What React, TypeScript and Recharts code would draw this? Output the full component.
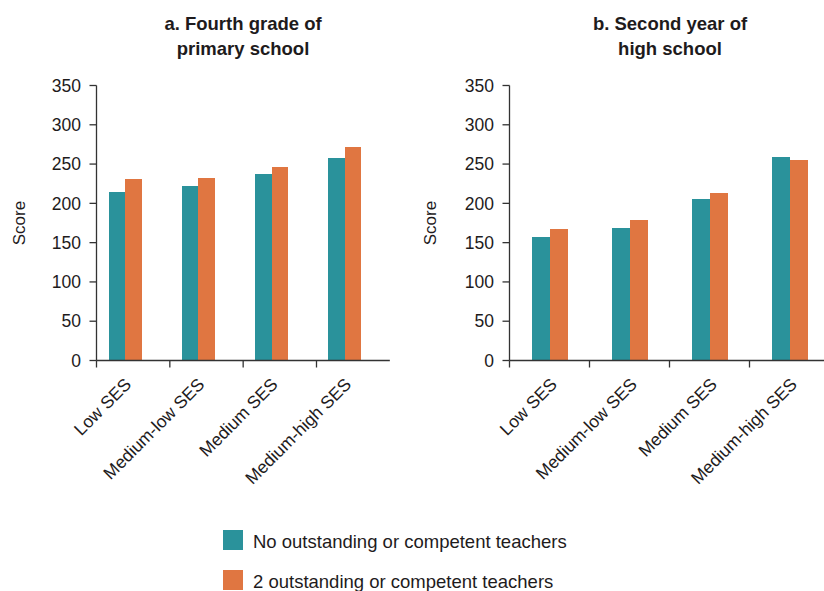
import React from 'react';
import { BarChart, Bar, XAxis, YAxis } from 'recharts';

// ---- data ----
const categories = ['Low SES', 'Medium-low SES', 'Medium SES', 'Medium-high SES'];
const primaryNone = [215, 222, 237, 258];
const primaryTwo = [231, 232, 246, 272];
const highNone = [157, 169, 205, 259];
const highTwo = [167, 179, 213, 255];
const yTicks = [0, 50, 100, 150, 200, 250, 300, 350];
const seriesNames = ['No outstanding or competent teachers', '2 outstanding or competent teachers'];
const titleA = ['a. Fourth grade of', 'primary school'];
const titleB = ['b. Second year of', 'high school'];
const yAxisTitle = 'Score';

const dataA = categories.map((c, i) => ({ category: c, none: primaryNone[i], two: primaryTwo[i] }));
const dataB = categories.map((c, i) => ({ category: c, none: highNone[i], two: highTwo[i] }));

// ---- style ----
const FONT = '"Liberation Sans", Arial, Helvetica, sans-serif';
const TEAL = '#2A929B';
const ORANGE = '#E07641';
const AXIS = '#333333';
const TEXT = '#1e1b1c';
const AXIS_Y = 360.5;
const PLOT_TOP = 85.5;
const CH = 520;
const XH = 100;
const YW = 60;

const CategoryTick = (props: any) => {
  const { x, payload, half, dx, dy, axisY } = props;
  const tx = x + dx;
  const ty = axisY + dy;
  return (
    <g>
      <line x1={x - half} y1={axisY} x2={x - half} y2={axisY + 7} stroke={AXIS} strokeWidth={1.3} />
      <text
        x={tx}
        y={ty}
        textAnchor="end"
        transform={`rotate(-45 ${tx} ${ty})`}
        fontSize={17.5}
        fill={TEXT}
        fontFamily={FONT}
      >
        {payload.value}
      </text>
    </g>
  );
};

const ScoreLabel = (props: any) => {
  const { viewBox, bx } = props;
  const cy = viewBox ? viewBox.y + viewBox.height / 2 : 223;
  return (
    <text
      x={bx}
      y={cy}
      textAnchor="middle"
      transform={`rotate(-90 ${bx} ${cy})`}
      fontSize={17}
      fill={TEXT}
      fontFamily={FONT}
    >
      {yAxisTitle}
    </text>
  );
};

const yTickStyle = { fontSize: 17.5, fill: TEXT, fontFamily: FONT };
const axisStyle = { stroke: AXIS, strokeWidth: 1.3 };

export default function App() {
  const plotWA = 293.33;
  const leftA = 36.5;
  const plotWB = 320;
  const leftB = 37.5;
  const widthB = 420;
  return (
    <div
      style={{
        position: 'absolute',
        left: 0,
        top: 0,
        width: 824,
        height: 591,
        overflow: 'hidden',
        background: '#fff',
        fontFamily: FONT,
      }}
    >
      <div style={{ position: 'absolute', left: 0, top: 0 }}>
        <BarChart
          width={412}
          height={CH}
          data={dataA}
          barGap={0}
          margin={{ top: PLOT_TOP, right: 412 - leftA - YW - plotWA, bottom: CH - AXIS_Y - XH, left: leftA }}
        >
          <XAxis
            dataKey="category"
            height={XH}
            interval={0}
            tickLine={false}
            tickSize={0}
            axisLine={axisStyle}
            tick={<CategoryTick half={plotWA / 8} dx={-1} dy={25} axisY={AXIS_Y} />}
          />
          <YAxis
            width={YW}
            domain={[0, 350]}
            ticks={yTicks}
            interval={0}
            tickSize={7}
            tickMargin={8.5}
            axisLine={axisStyle}
            tickLine={axisStyle}
            tick={yTickStyle}
            label={<ScoreLabel bx={25} />}
          />
          <Bar dataKey="none" name={seriesNames[0]} fill={TEAL} barSize={16.5} shapeRendering="crispEdges" isAnimationActive={false} />
          <Bar dataKey="two" name={seriesNames[1]} fill={ORANGE} barSize={16.5} shapeRendering="crispEdges" isAnimationActive={false} />
          <Bar dataKey="spacer" fill="none" barSize={16.5} isAnimationActive={false} />
        </BarChart>
      </div>
      <div style={{ position: 'absolute', left: 412, top: 0 }}>
        <BarChart
          width={widthB}
          height={CH}
          data={dataB}
          barGap={0}
          margin={{ top: PLOT_TOP, right: widthB - leftB - YW - plotWB, bottom: CH - AXIS_Y - XH, left: leftB }}
        >
          <XAxis
            dataKey="category"
            height={XH}
            interval={0}
            tickLine={false}
            tickSize={0}
            axisLine={axisStyle}
            tick={<CategoryTick half={plotWB / 8} dx={8.5} dy={25} axisY={AXIS_Y} />}
          />
          <YAxis
            width={YW}
            domain={[0, 350]}
            ticks={yTicks}
            interval={0}
            tickSize={7}
            tickMargin={8.5}
            axisLine={axisStyle}
            tickLine={axisStyle}
            tick={yTickStyle}
            label={<ScoreLabel bx={24} />}
          />
          <Bar dataKey="none" name={seriesNames[0]} fill={TEAL} barSize={18} shapeRendering="crispEdges" isAnimationActive={false} />
          <Bar dataKey="two" name={seriesNames[1]} fill={ORANGE} barSize={18} shapeRendering="crispEdges" isAnimationActive={false} />
        </BarChart>
      </div>
      <svg
        width={824}
        height={591}
        style={{ position: 'absolute', left: 0, top: 0, pointerEvents: 'none' }}
      >
        <g fontFamily={FONT} fontWeight="bold" fontSize={18.5} fill={TEXT} textAnchor="middle">
          <text x={243} y={30}>{titleA[0]}</text>
          <text x={243} y={55}>{titleA[1]}</text>
          <text x={670} y={30}>{titleB[0]}</text>
          <text x={670} y={55}>{titleB[1]}</text>
        </g>
        <g fontFamily={FONT} fontSize={18.5} fill={TEXT}>
          <rect x={223} y={530} width={20} height={19.5} fill={TEAL} shapeRendering="crispEdges" />
          <text x={253} y={548}>{seriesNames[0]}</text>
          <rect x={223} y={570} width={20} height={19.5} fill={ORANGE} shapeRendering="crispEdges" />
          <text x={253} y={588}>{seriesNames[1]}</text>
        </g>
      </svg>
    </div>
  );
}
